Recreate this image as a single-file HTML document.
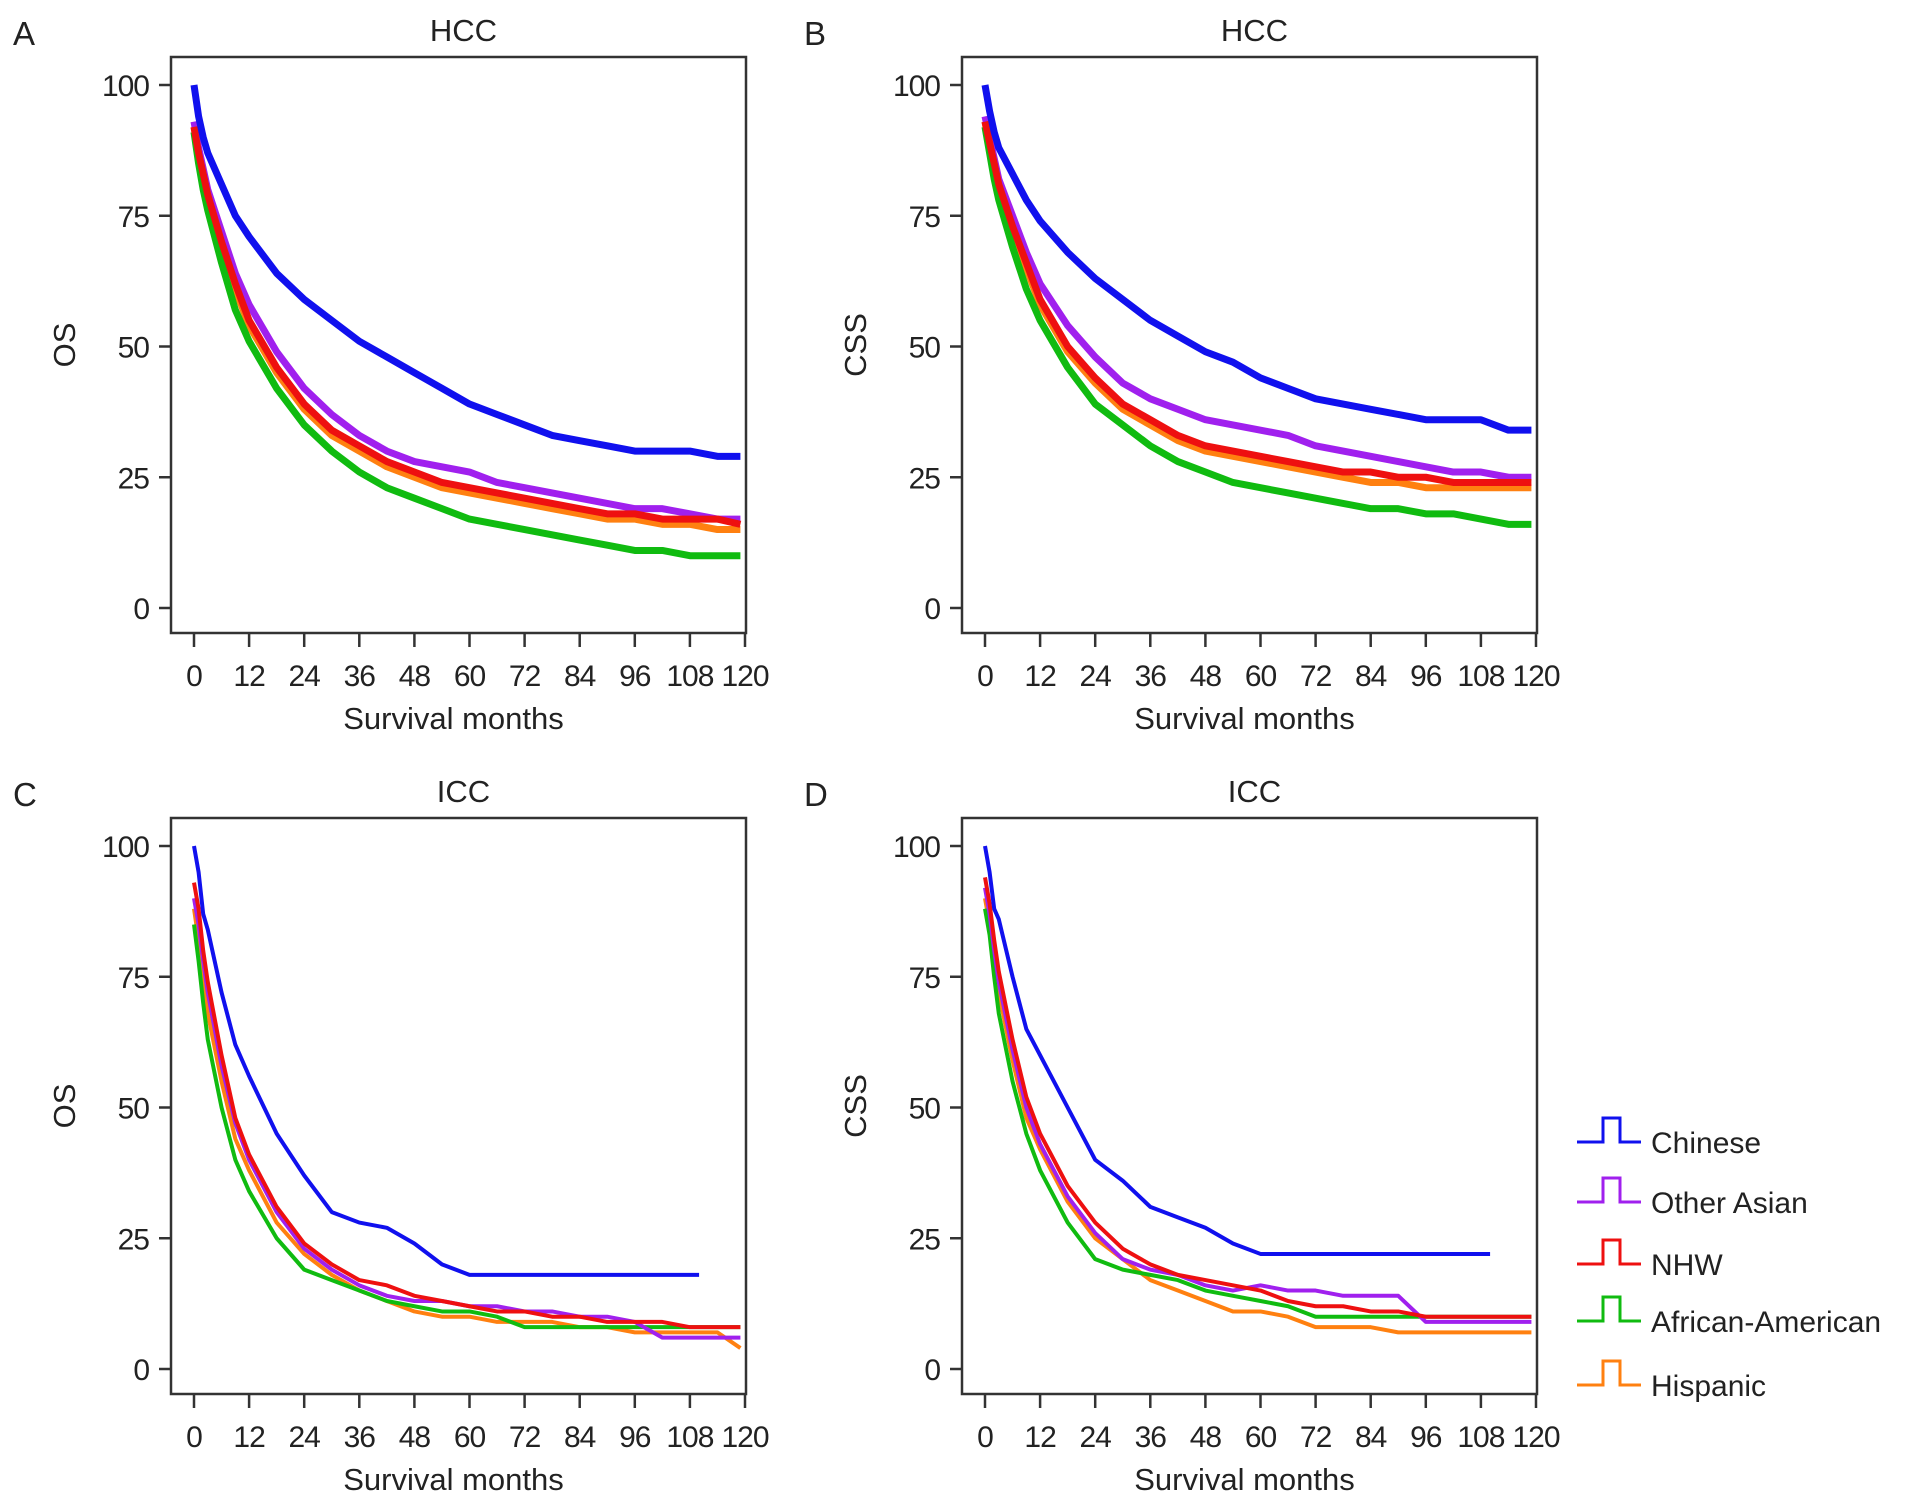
<!DOCTYPE html>
<html><head><meta charset="utf-8"><style>
body{margin:0;background:#fff;}
svg text{font-family:"Liberation Sans",sans-serif;fill:#222;}
</style></head><body>
<svg id="fig" width="1913" height="1499" viewBox="0 0 1913 1499" xmlns="http://www.w3.org/2000/svg"></svg>
<script>
const months = [0,1,2,3,6,9,12,18,24,30,36,42,48,54,60,66,72,78,84,90,96,102,108,114,119];
const xTicks = [0,12,24,36,48,60,72,84,96,108,120];
const yTicks = [0,25,50,75,100];
const groups = ["Chinese","Other Asian","NHW","African-American","Hispanic"];
const colors = {"Chinese":"#1010ee","Other Asian":"#a020ee","NHW":"#ee1010","African-American":"#10bb10","Hispanic":"#ff8010"};
const drawOrder = ["Hispanic","African-American","Other Asian","NHW","Chinese"];

const A_chinese = [100,94,90,87,81,75,71,64,59,55,51,48,45,42,39,37,35,33,32,31,30,30,30,29,29];
const A_otherAsian = [93,88,84,80,72,64,58,49,42,37,33,30,28,27,26,24,23,22,21,20,19,19,18,17,17];
const A_nhw = [92,87,83,79,70,62,55,46,39,34,31,28,26,24,23,22,21,20,19,18,18,17,17,17,16];
const A_aa = [91,85,80,76,66,57,51,42,35,30,26,23,21,19,17,16,15,14,13,12,11,11,10,10,10];
const A_hispanic = [92,87,82,78,69,61,54,45,38,33,30,27,25,23,22,21,20,19,18,17,17,16,16,15,15];

const B_chinese = [100,95,91,88,83,78,74,68,63,59,55,52,49,47,44,42,40,39,38,37,36,36,36,34,34];
const B_otherAsian = [94,90,86,82,75,68,62,54,48,43,40,38,36,35,34,33,31,30,29,28,27,26,26,25,25];
const B_nhw = [93,89,85,81,73,66,59,50,44,39,36,33,31,30,29,28,27,26,26,25,25,24,24,24,24];
const B_aa = [92,87,82,78,69,61,55,46,39,35,31,28,26,24,23,22,21,20,19,19,18,18,17,16,16];
const B_hispanic = [93,88,84,80,72,65,58,49,43,38,35,32,30,29,28,27,26,25,24,24,23,23,23,23,23];

const C_chinese = [100,95,87,84,72,62,56,45,37,30,28,27,24,20,18,18,18,18,18,18,18,18,18,null,null];
const C_otherAsian = [90,85,78,72,58,47,40,30,23,19,16,14,13,13,12,12,11,11,10,10,9,6,6,6,6];
const C_nhw = [93,88,80,74,60,48,41,31,24,20,17,16,14,13,12,11,11,10,10,9,9,9,8,8,8];
const C_aa = [85,78,70,63,50,40,34,25,19,17,15,13,12,11,11,10,8,8,8,8,8,8,8,8,8];
const C_hispanic = [88,82,75,68,55,44,38,28,22,18,15,13,11,10,10,9,9,9,8,8,7,7,7,7,4];

const D_chinese = [100,95,88,86,75,65,60,50,40,36,31,29,27,24,22,22,22,22,22,22,22,22,22,null,null];
const D_otherAsian = [92,87,80,74,61,50,43,33,26,21,19,18,16,15,16,15,15,14,14,14,9,9,9,9,9];
const D_nhw = [94,89,82,76,63,52,45,35,28,23,20,18,17,16,15,13,12,12,11,11,10,10,10,10,10];
const D_aa = [88,83,75,68,55,45,38,28,21,19,18,17,15,14,13,12,10,10,10,10,10,10,10,10,10];
const D_hispanic = [90,85,78,72,59,48,42,32,25,21,17,15,13,11,11,10,8,8,8,7,7,7,7,7,7];

const panels = [
 {id:"a",letter:"A",title:"HCC",ylab:"OS",bx:171,by:57,lw:7,data:{"Chinese":A_chinese,"Other Asian":A_otherAsian,"NHW":A_nhw,"African-American":A_aa,"Hispanic":A_hispanic}},
 {id:"b",letter:"B",title:"HCC",ylab:"CSS",bx:962,by:57,lw:7,data:{"Chinese":B_chinese,"Other Asian":B_otherAsian,"NHW":B_nhw,"African-American":B_aa,"Hispanic":B_hispanic}},
 {id:"c",letter:"C",title:"ICC",ylab:"OS",bx:171,by:818,lw:4,data:{"Chinese":C_chinese,"Other Asian":C_otherAsian,"NHW":C_nhw,"African-American":C_aa,"Hispanic":C_hispanic}},
 {id:"d",letter:"D",title:"ICC",ylab:"CSS",bx:962,by:818,lw:4,data:{"Chinese":D_chinese,"Other Asian":D_otherAsian,"NHW":D_nhw,"African-American":D_aa,"Hispanic":D_hispanic}}
];
const NS="http://www.w3.org/2000/svg";
const svg=document.getElementById('fig');
function mk(tag,attrs,parent){const e=document.createElementNS(NS,tag);for(const k in attrs)e.setAttribute(k,attrs[k]);(parent||svg).appendChild(e);return e;}

panels.forEach(p=>{
  const W=575,H=576;
  const x0=p.bx+23, x1=p.bx+574;
  const y100=p.by+28, y0=p.by+551;
  const xs=m=>x0+(x1-x0)*m/120;
  const ys=v=>y0-(y0-y100)*v/100;
  const g=mk('g',{});
  
  
  const lt=mk('text',{x:p.bx-158,y:p.by-12,'font-size':33},g);lt.textContent=p.letter;
  
  
  const tt=mk('text',{x:p.bx+W/2+5,y:p.by-16,'font-size':31,'text-anchor':'middle'},g);tt.textContent=p.title;
  
  
  drawOrder.forEach(name=>{
    const vals=p.data[name];let d="";let last=null;
    vals.forEach((v,i)=>{ if(v===null)return; const x=xs(months[i]),y=ys(v);
      if(last===null)d+="M"+x+","+y; else d+="L"+x+","+y; last=i;});
    const endM = last===vals.length-1?119:110;
    d+="H"+xs(endM);
    const path=mk('path',{d:d,fill:'none',stroke:colors[name],'stroke-width':p.lw,'stroke-linejoin':'round'},g);
    
    
  });
  const box=mk('rect',{x:p.bx,y:p.by,width:W,height:H,fill:'none',stroke:'#333','stroke-width':2.5},g);
  
  
  xTicks.forEach(t=>{const x=xs(t);
    mk('line',{x1:x,x2:x,y1:p.by+H,y2:p.by+H+14,stroke:'#333','stroke-width':2.5},g);
    const tx=mk('text',{x:x,y:p.by+H+53,'font-size':30,'text-anchor':'middle','letter-spacing':'-1'},g);tx.textContent=t;
    
    
  });
  yTicks.forEach(t=>{const y=ys(t);
    mk('line',{x1:p.bx-12,x2:p.bx,y1:y,y2:y,stroke:'#333','stroke-width':2.5},g);
    const tx=mk('text',{x:p.bx-22,y:y+11,'font-size':30,'text-anchor':'end','letter-spacing':'-1'},g);tx.textContent=t;
    
    
  });
  const xl=mk('text',{x:p.bx+W/2-5,y:p.by+H+96,'font-size':31,'text-anchor':'middle'},g);xl.textContent="Survival months";
  
  
  const yx=p.bx-96, yy=p.by+H/2;
  const yl=mk('text',{x:yx,y:yy,'font-size':31,'text-anchor':'middle',transform:`rotate(-90 ${yx} ${yy})`},g);yl.textContent=p.ylab;
  
  
});

const legY=[1142,1202,1264,1321,1385];
const lg=mk('g',{});


groups.forEach((n,i)=>{
  const y=legY[i];
  const ent=mk('g',{},lg);
  
  
  mk('path',{d:`M1577,${y}H1603V${y-24}H1620V${y}H1641`,fill:'none',stroke:colors[n],'stroke-width':3},ent);
  const t=mk('text',{x:1651,y:y+11,'font-size':30},ent);t.textContent=n;
});
</script>
</body></html>
